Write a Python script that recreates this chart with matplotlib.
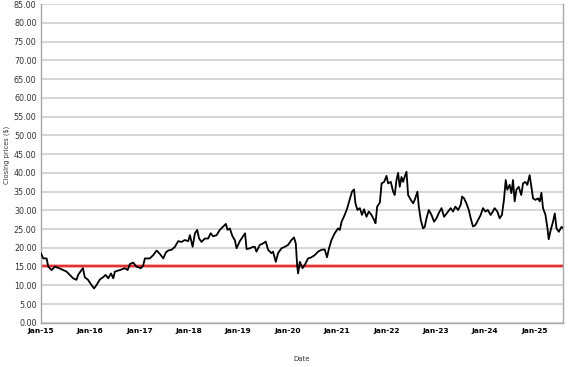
import pandas as pd
import matplotlib.pyplot as plt
import matplotlib.dates as mdates
from matplotlib.ticker import FormatStrFormatter

plt.rcParams['font.family'] = ['DejaVu Sans']

# closing prices
dates = [
    '2015-01-02', '2015-01-20', '2015-02-14', '2015-02-26', '2015-03-23', '2015-04-16',
    '2015-05-23', '2015-06-17', '2015-07-11', '2015-08-05', '2015-08-29', '2015-09-23',
    '2015-10-05', '2015-10-30', '2015-11-10', '2015-11-23', '2015-12-17', '2016-01-12',
    '2016-01-31', '2016-02-18', '2016-03-14', '2016-04-07', '2016-04-25', '2016-05-15',
    '2016-06-04', '2016-06-21', '2016-07-03', '2016-08-09', '2016-09-15', '2016-10-05',
    '2016-10-22', '2016-11-15', '2016-12-10', '2017-01-11', '2017-01-28', '2017-02-10',
    '2017-03-18', '2017-04-13', '2017-05-08', '2017-06-01', '2017-06-26', '2017-07-15',
    '2017-08-01', '2017-08-26', '2017-09-20', '2017-10-14', '2017-11-08', '2017-12-02',
    '2017-12-27', '2018-01-09', '2018-01-29', '2018-02-15', '2018-03-04', '2018-03-18',
    '2018-04-05', '2018-04-29', '2018-05-24', '2018-06-11', '2018-06-30', '2018-07-25',
    '2018-08-18', '2018-09-12', '2018-10-02', '2018-10-14', '2018-10-31', '2018-11-20',
    '2018-12-07', '2018-12-20', '2019-01-13', '2019-02-06', '2019-02-21', '2019-03-04',
    '2019-03-28', '2019-04-21', '2019-05-04', '2019-05-16', '2019-06-10', '2019-07-04',
    '2019-07-24', '2019-08-10', '2019-09-04', '2019-09-16', '2019-10-06', '2019-10-23',
    '2019-11-17', '2019-12-12', '2020-01-05', '2020-01-30', '2020-02-18', '2020-03-02',
    '2020-03-12', '2020-03-19', '2020-04-01', '2020-04-21', '2020-05-08', '2020-06-01',
    '2020-06-26', '2020-07-21', '2020-08-14', '2020-09-08', '2020-10-02', '2020-10-19',
    '2020-11-03', '2020-11-21', '2020-12-15', '2021-01-09', '2021-01-22', '2021-02-04',
    '2021-02-27', '2021-03-18', '2021-04-04', '2021-04-22', '2021-05-07', '2021-05-17',
    '2021-06-01', '2021-06-19', '2021-07-05', '2021-07-20', '2021-08-07', '2021-08-24',
    '2021-09-13', '2021-10-03', '2021-10-13', '2021-10-25', '2021-11-14', '2021-11-27',
    '2021-12-16', '2022-01-02', '2022-01-14', '2022-02-03', '2022-02-20', '2022-03-04',
    '2022-03-17', '2022-03-29', '2022-04-10', '2022-04-23', '2022-05-05', '2022-05-17',
    '2022-05-30', '2022-06-11', '2022-07-01', '2022-07-18', '2022-07-30', '2022-08-19',
    '2022-08-29', '2022-09-13', '2022-09-30', '2022-10-12', '2022-10-25', '2022-11-11',
    '2022-12-01', '2022-12-20', '2023-01-07', '2023-01-24', '2023-02-13', '2023-03-04',
    '2023-04-03', '2023-04-22', '2023-05-09', '2023-05-27', '2023-06-16', '2023-07-05',
    '2023-07-15', '2023-07-30', '2023-08-16', '2023-09-03', '2023-09-17', '2023-10-04',
    '2023-10-22', '2023-11-10', '2023-11-30', '2023-12-17', '2024-01-03', '2024-01-22',
    '2024-02-11', '2024-02-28', '2024-03-12', '2024-04-01', '2024-04-18', '2024-05-05',
    '2024-05-20', '2024-06-02', '2024-06-14', '2024-07-01', '2024-07-14', '2024-07-26',
    '2024-08-07', '2024-08-20', '2024-09-06', '2024-09-25', '2024-10-08', '2024-10-25',
    '2024-11-09', '2024-11-26', '2024-12-09', '2024-12-21', '2025-01-08', '2025-01-27',
    '2025-02-09', '2025-02-21', '2025-03-05', '2025-03-23', '2025-04-07', '2025-04-16',
    '2025-05-01', '2025-05-18', '2025-05-31', '2025-06-13', '2025-06-30', '2025-07-19',
    '2025-08-03',
]
prices = [
    18.6, 17.2, 17.2, 15.0, 14.1, 15.0,
    14.5, 14.1, 13.7, 12.8, 11.9, 11.5,
    12.8, 14.1, 14.6, 12.2, 11.5, 10.1,
    9.2, 10.1, 11.6, 12.2, 12.8, 11.9,
    13.2, 11.9, 13.7, 14.1, 14.6, 14.1,
    15.7, 16.1, 15.0, 14.6, 15.3, 17.2,
    17.2, 18.1, 19.3, 18.4, 17.2, 18.8,
    19.3, 19.5, 20.3, 21.8, 21.6, 22.1,
    21.8, 23.4, 20.3, 23.9, 24.8, 22.5,
    21.6, 22.5, 22.5, 23.9, 23.1, 23.4,
    24.8, 25.7, 26.4, 24.8, 25.2, 23.1,
    22.1, 19.9, 21.8, 23.1, 23.9, 19.7,
    19.9, 20.3, 20.3, 19.0, 20.8, 21.2,
    21.7, 19.5, 18.6, 19.0, 16.3, 18.6,
    19.9, 20.3, 20.8, 22.1, 22.8, 21.2,
    15.5, 13.2, 16.3, 14.6, 15.5, 17.2,
    17.5, 18.1, 19.0, 19.5, 19.6, 17.5,
    19.9, 22.1, 23.9, 25.2, 24.8, 27.0,
    28.8, 30.6, 32.8, 35.0, 35.6, 32.0,
    30.1, 30.6, 28.8, 30.3, 28.3, 29.7,
    28.8, 27.4, 26.6, 31.0, 32.1, 37.2,
    37.6, 39.2, 37.2, 37.6, 35.0, 34.1,
    38.1, 40.0, 36.3, 38.9, 37.6, 39.0,
    40.3, 34.1, 32.8, 31.9, 32.8, 35.0,
    31.0, 27.4, 25.2, 25.6, 27.9, 30.1,
    28.8, 27.0, 27.9, 29.3, 30.6, 28.3,
    29.7, 30.6, 29.7, 31.0, 30.1, 31.5,
    33.7, 33.2, 31.9, 30.1, 27.9, 25.7,
    26.1, 27.4, 28.8, 30.6, 29.7, 30.1,
    28.8, 29.7, 30.6, 29.7, 27.9, 28.8,
    32.8, 38.1, 35.5, 36.8, 34.6, 38.1,
    32.4, 35.5, 36.3, 34.1, 37.2, 37.6,
    36.8, 39.4, 36.3, 33.2, 32.8, 33.2,
    32.4, 34.7, 30.6, 28.8, 25.2, 22.3,
    24.8, 27.0, 29.2, 25.2, 24.3, 25.6,
    25.2,
]
reference_level = 15.3

df = pd.DataFrame({'Date': pd.to_datetime(dates), 'Close': prices})

fig = plt.figure(figsize=(5.77, 3.67), dpi=100)
ax = fig.add_axes([0.0705, 0.12, 0.906, 0.869])

ax.plot(df['Date'], df['Close'], color='black', linewidth=1.3, zorder=3)
ax.axhline(reference_level, color='#f4a0a0', linewidth=2.6, zorder=2)
ax.axhline(reference_level, color='#e01010', linewidth=1.1, zorder=2)

ax.set_ylim(0, 85)
ax.set_yticks(range(0, 90, 5))
ax.yaxis.set_major_formatter(FormatStrFormatter('%.2f'))
ax.set_xlim(pd.Timestamp('2015-01-01'), df['Date'].iloc[-1])
ax.xaxis.set_major_locator(mdates.YearLocator())
ax.xaxis.set_major_formatter(mdates.DateFormatter('Jan-%y'))

ax.grid(axis='y', color='#cccccc', linewidth=1.1)
ax.set_axisbelow(True)
for s in ax.spines.values():
    s.set_color('#a8a8a8')
    s.set_linewidth(1.0)
ax.spines['top'].set_visible(False)

ax.tick_params(axis='y', length=0, pad=3, labelsize=5.8, labelcolor='#333333')
ax.tick_params(axis='x', length=0, pad=3.4, labelsize=5.4, labelcolor='black')
for lbl in ax.get_xticklabels():
    lbl.set_fontweight('bold')
for lbl in ax.get_yticklabels():
    lbl.set_verticalalignment('center_baseline')

fig.text(7 / 577, 1 - 155 / 367, 'Closing prices ($)', rotation=90,
         fontsize=4.8, color='#333333', ha='center', va='center')
fig.text(302 / 577, 1 - 359 / 367, 'Date', fontsize=5, color='#333333',
         ha='center', va='center')

fig.savefig('out.png', dpi=100)
